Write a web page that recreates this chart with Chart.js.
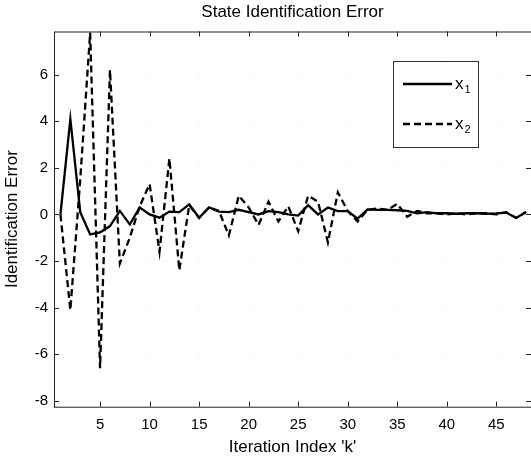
<!DOCTYPE html>
<html lang="en">
<head>
    <meta charset="UTF-8">
    <title>State Identification Error</title>
    <script src="https://cdn.jsdelivr.net/npm/chart.js"></script>
    <style>
        html, body {
            margin: 0;
            padding: 0;
            background-color: white;
        }
        .chart-container {
            width: 531px;
            height: 460px;
        }
    </style>
</head>
<body>
    <div class="chart-container">
        <canvas id="errChart"></canvas>
    </div>

    <script>
        // iteration index k = 1..48
        const iterations = [
             1,  2,  3,  4,  5,  6,  7,  8,  9, 10, 11, 12, 13, 14, 15, 16,
            17, 18, 19, 20, 21, 22, 23, 24, 25, 26, 27, 28, 29, 30, 31, 32,
            33, 34, 35, 36, 37, 38, 39, 40, 41, 42, 43, 44, 45, 46, 47, 48
        ];
        const errX1 = [
            0, 4.1, 0.1, -0.86, -0.77, -0.5, 0.15, -0.43, 0.3, 0.0, -0.14, 0.12, 0.1, 0.43, -0.14, 0.3,
            0.12, 0.1, 0.2, 0.1, 0.0, 0.14, 0.1, 0.0, -0.05, 0.4, 0.0, 0.3, 0.14, 0.14, -0.18, 0.22,
            0.2, 0.2, 0.18, 0.15, 0.05, 0.1, 0.05, 0.05, 0.03, 0.05, 0.05, 0.03, 0.05, 0.08, -0.15, 0.1
        ];
        const errX2 = [
            0, -4.1, 1.5, 7.8, -6.6, 6.2, -2.1, -1.0, 0.35, 1.3, -1.6, 2.4, -2.4, 0.4, -0.15, 0.3,
            0.15, -0.9, 0.8, 0.3, -0.45, 0.55, -0.3, 0.35, -0.72, 0.8, 0.55, -1.2, 0.95, 0.15, -0.3, 0.2,
            0.25, 0.2, 0.45, -0.1, 0.15, 0.05, 0.05, 0.0, 0.05, 0.0, 0.05, 0.05, 0.0, 0.1, -0.15, 0.1
        ];
        const xTicks = [5, 10, 15, 20, 25, 30, 35, 40, 45];
        const yTicks = [-8, -6, -4, -2, 0, 2, 4, 6];
        const seriesNames = ['x_1', 'x_2'];

        const AXIS_FONT = 'Liberation Sans, Arial, sans-serif';

        // MATLAB style box with inward ticks + legend inside the axes
        const matlabBox = {
            id: 'matlabBox',
            afterDatasetsDraw(chart) {
                const { ctx, chartArea: a, scales } = chart;
                ctx.save();
                ctx.strokeStyle = '#222';
                ctx.lineWidth = 1;
                ctx.setLineDash([]);
                ctx.strokeRect(a.left + 0.5, a.top + 0.5, a.right - a.left, a.bottom - a.top);
                ctx.beginPath();
                xTicks.forEach(v => {
                    const px = Math.round(scales.x.getPixelForValue(v)) + 0.5;
                    ctx.moveTo(px, a.bottom); ctx.lineTo(px, a.bottom - 5);
                    ctx.moveTo(px, a.top); ctx.lineTo(px, a.top + 5);
                });
                yTicks.forEach(v => {
                    const py = Math.round(scales.y.getPixelForValue(v)) + 0.5;
                    ctx.moveTo(a.left, py); ctx.lineTo(a.left + 5, py);
                    ctx.moveTo(a.right, py); ctx.lineTo(a.right - 5, py);
                });
                ctx.stroke();

                // legend
                const bx = 393.5, by = 61.5, bw = 85, bh = 86;
                ctx.fillStyle = 'white';
                ctx.fillRect(bx, by, bw, bh);
                ctx.strokeStyle = '#333';
                ctx.strokeRect(bx, by, bw, bh);
                chart.data.datasets.forEach((ds, i) => {
                    const y = 84 + i * 40;
                    ctx.strokeStyle = ds.borderColor;
                    ctx.lineWidth = ds.borderWidth;
                    ctx.setLineDash(ds.borderDash || []);
                    ctx.beginPath();
                    ctx.moveTo(403, y);
                    ctx.lineTo(452, y);
                    ctx.stroke();
                    const [base, sub] = ds.label.split('_');
                    ctx.fillStyle = '#000';
                    ctx.textBaseline = 'middle';
                    ctx.font = '17px ' + AXIS_FONT;
                    ctx.fillText(base, 455, y);
                    const w = ctx.measureText(base).width;
                    ctx.font = '11px ' + AXIS_FONT;
                    ctx.fillText(sub, 455 + w + 1, y + 6);
                });
                ctx.restore();
            }
        };

        const ctx = document.getElementById('errChart').getContext('2d');
        new Chart(ctx, {
            type: 'line',
            data: {
                datasets: [{
                    label: seriesNames[0],
                    data: iterations.map((k, i) => ({ x: k, y: errX1[i] })),
                    borderColor: '#000',
                    borderWidth: 2.3,
                    pointRadius: 0,
                    tension: 0
                }, {
                    label: seriesNames[1],
                    data: iterations.map((k, i) => ({ x: k, y: errX2[i] })),
                    borderColor: '#000',
                    borderWidth: 2.3,
                    borderDash: [7, 4],
                    pointRadius: 0,
                    tension: 0
                }]
            },
            options: {
                responsive: true,
                maintainAspectRatio: false,
                animation: false,
                layout: { padding: { left: 0, right: 0, top: 0, bottom: 0 } },
                plugins: {
                    legend: { display: false },
                    tooltip: { enabled: false },
                    title: {
                        display: true,
                        text: 'State Identification Error',
                        fullSize: false,
                        color: '#000',
                        font: { family: AXIS_FONT, size: 17, weight: 'normal' },
                        padding: { top: 2, bottom: 9.1 }
                    }
                },
                scales: {
                    x: {
                        type: 'linear',
                        min: 0.35,
                        max: 48.5,
                        afterBuildTicks: s => { s.ticks = xTicks.map(v => ({ value: v })); },
                        afterFit: s => { s.height = 53.3; },
                        grid: { color: '#ececec', lineWidth: 1, drawTicks: false },
                        border: { display: false, dash: [1, 3] },
                        ticks: {
                            color: '#000',
                            padding: 9,
                            maxRotation: 0,
                            font: { family: AXIS_FONT, size: 15 }
                        },
                        title: {
                            display: true,
                            text: "Iteration Index 'k'",
                            color: '#000',
                            font: { family: AXIS_FONT, size: 17 },
                            padding: { top: 0, bottom: 2 }
                        }
                    },
                    y: {
                        min: -8.25,
                        max: 7.85,
                        afterBuildTicks: s => { s.ticks = yTicks.map(v => ({ value: v })); },
                        afterFit: s => { s.width = 54; },
                        grid: { color: '#ececec', lineWidth: 1, drawTicks: false },
                        border: { display: false, dash: [1, 3] },
                        ticks: {
                            color: '#000',
                            padding: 6,
                            font: { family: AXIS_FONT, size: 15 }
                        },
                        title: {
                            display: true,
                            text: 'Identification Error',
                            color: '#000',
                            font: { family: AXIS_FONT, size: 17 },
                            padding: { top: 2, bottom: 0 }
                        }
                    }
                }
            },
            plugins: [matlabBox]
        });
    </script>
</body>
</html>
